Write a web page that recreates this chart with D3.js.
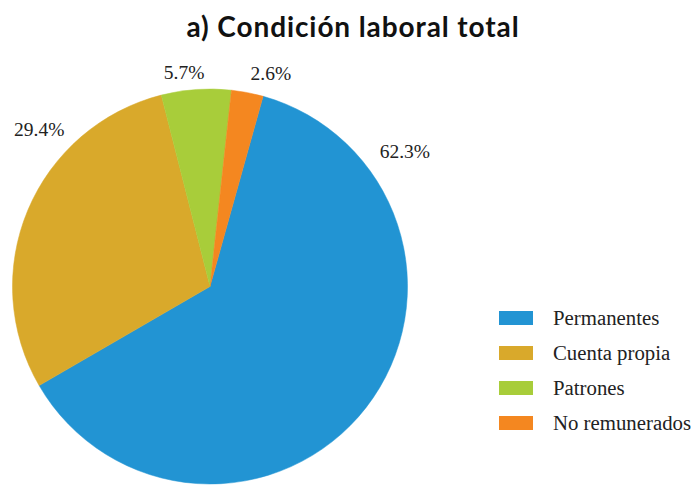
<!DOCTYPE html>
<html>
<head>
<meta charset="utf-8">
<script src="https://cdn.jsdelivr.net/npm/d3@7"></script>
<style>
  body { margin: 0; background: #fff; }
  svg { display: block; }
</style>
</head>
<body>
<svg id="chart" width="694" height="485"></svg>
<script>
const categories = ['Permanentes', 'Cuenta propia', 'Patrones', 'No remunerados'];
const values = [62.3, 29.4, 5.7, 2.6];
const colors = ['#2294d3', '#d9a92b', '#a8cd3a', '#f48720'];

// label placement (angle from top in degrees, distance from centre)
const labelAngles = [55.3, 312.6, 353.1, 15.9];
const labelRadius = [237, 232, 216, 222];

const width = 694, height = 485;
const cx = 210, cy = 286.5, radius = 197.5;
const startDeg = 15.6;

const svg = d3.select('#chart');

svg.append('text')
    .attr('x', 353)
    .attr('y', 37)
    .attr('text-anchor', 'middle')
    .style('font-family', 'Lato, "Noto Sans", sans-serif')
    .style('font-weight', 'bold')
    .style('font-size', '28px')
    .style('letter-spacing', '0.9px')
    .style('fill', '#111')
    .text('a) Condición laboral total');

const data = categories.map((c, i) => ({ name: c, value: values[i], color: colors[i] }));

const pie = d3.pie()
    .value(d => d.value)
    .sort(null)
    .startAngle(startDeg * Math.PI / 180)
    .endAngle(startDeg * Math.PI / 180 + 2 * Math.PI);

const arc = d3.arc().innerRadius(0).outerRadius(radius);

const g = svg.append('g').attr('transform', `translate(${cx},${cy})`);

g.selectAll('path')
    .data(pie(data))
    .enter()
    .append('path')
    .attr('d', arc)
    .attr('fill', d => d.data.color)
    .attr('stroke', d => d.data.color)
    .attr('stroke-width', 0.5);

g.selectAll('text.pct')
    .data(pie(data))
    .enter()
    .append('text')
    .attr('class', 'pct')
    .attr('x', (d, i) => Math.sin(labelAngles[i] * Math.PI / 180) * labelRadius[i])
    .attr('y', (d, i) => -Math.cos(labelAngles[i] * Math.PI / 180) * labelRadius[i])
    .attr('dy', '0.35em')
    .attr('text-anchor', 'middle')
    .style('font-family', '"Liberation Serif", serif')
    .style('font-size', '19.5px')
    .style('fill', '#222')
    .text(d => d.data.value.toFixed(1) + '%');

const legend = svg.append('g').attr('transform', 'translate(499,311)');

const row = legend.selectAll('g')
    .data(data)
    .enter()
    .append('g')
    .attr('transform', (d, i) => `translate(0,${i * 35})`);

row.append('rect')
    .attr('width', 34)
    .attr('height', 14)
    .attr('fill', d => d.color);

row.append('text')
    .attr('x', 54)
    .attr('y', 7)
    .attr('dy', '0.35em')
    .style('font-family', '"Liberation Serif", serif')
    .style('font-size', '20.8px')
    .style('fill', '#222')
    .text(d => d.name);
</script>
</body>
</html>
